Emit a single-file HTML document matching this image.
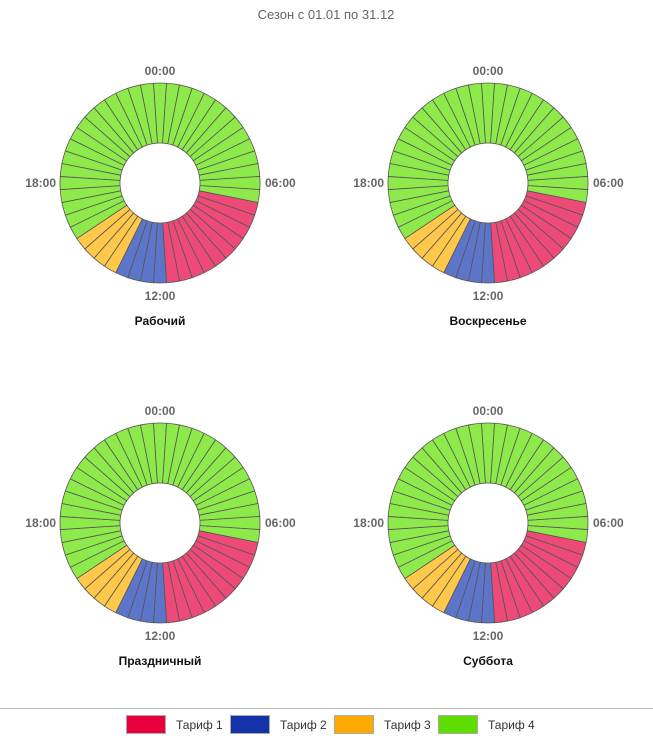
<!DOCTYPE html>
<html><head><meta charset="utf-8"><style>
body{margin:0;background:#fff;font-family:"Liberation Sans","DejaVu Sans",sans-serif;}
svg{display:block}
</style></head><body>
<svg id="c" width="653" height="738">
<text x="326" y="19" text-anchor="middle" font-size="13" fill="#666">Сезон с 01.01 по 31.12</text>
<line x1="0" y1="708.5" x2="653" y2="708.5" stroke="#bbb"/>
</svg>
<script>
const chartTitles=["Рабочий","Воскресенье","Праздничный","Суббота"];
// tariff index (0..3) per 30-minute slot, 48 slots starting 00:00
function sched(){const a=[];for(let i=0;i<48;i++){a.push(i>=14&&i<24?0:i>=24&&i<28?1:i>=28&&i<32?2:3);}return a;}
const workday=sched();
const sunday=sched();
const holiday=sched();
const saturday=sched();
const schedules=[workday,sunday,holiday,saturday];
const tariffNames=["Тариф 1","Тариф 2","Тариф 3","Тариф 4"];
const hourLabels=["00:00","06:00","12:00","18:00"];
const fills=["#ee4a78","#5c75c8","#ffc84a","#8eea4a"];
const legendFills=["#e8003c","#1433a8","#ffaa00","#5fdd00"];
const svg=document.getElementById('c');
const NS="http://www.w3.org/2000/svg";
function mk(t,at){const e=document.createElementNS(NS,t);for(const k in at)e.setAttribute(k,at[k]);return e;}
const centers=[[160,183],[488,183],[160,523],[488,523]];
const R=100,r=40;
schedules.forEach((s,ci)=>{
  const [cx,cy]=centers[ci];
  const g=mk('g',{});
  
  
  svg.appendChild(g);
  const n=s.length,step=2*Math.PI/n,off=-step/2;
  s.forEach((t,i)=>{
    const a0=off+i*step,a1=a0+step;
    const p=(rr,a)=>[cx+rr*Math.sin(a),cy-rr*Math.cos(a)];
    const [x0,y0]=p(R,a0),[x1,y1]=p(R,a1),[x2,y2]=p(r,a1),[x3,y3]=p(r,a0);
    const d=`M${x0},${y0}A${R},${R} 0 0 1 ${x1},${y1}L${x2},${y2}A${r},${r} 0 0 0 ${x3},${y3}Z`;
    const e=mk('path',{d,fill:fills[t],stroke:'#555','stroke-width':'0.8'});
    
    
    g.appendChild(e);
  });
  const lp=[[cx,cy-R-8,'middle'],[cx+R+5,cy+4,'start'],[cx,cy+R+17,'middle'],[cx-R-4,cy+4,'end']];
  hourLabels.forEach((h,k)=>{
    const e=mk('text',{x:lp[k][0],y:lp[k][1],'text-anchor':lp[k][2],'font-size':'12','font-weight':'bold',fill:'#666'});
    e.textContent=h;
    
    
    g.appendChild(e);
  });
  const tt=mk('text',{x:cx,y:cy+142,'text-anchor':'middle','font-size':'12','font-weight':'bold',fill:'#111'});
  tt.textContent=chartTitles[ci];
  
  
  g.appendChild(tt);
});
tariffNames.forEach((nm,i)=>{
  const x=126+i*104;
  const g=mk('g',{});
  
  
  svg.appendChild(g);
  g.appendChild(mk('rect',{x:x+0.5,y:715.5,width:39,height:18,fill:legendFills[i],stroke:'#aaa'}));
  const t=mk('text',{x:x+50,y:729,'font-size':'12',fill:'#333'});
  t.textContent=nm;
  g.appendChild(t);
});
</script>
</body></html>
